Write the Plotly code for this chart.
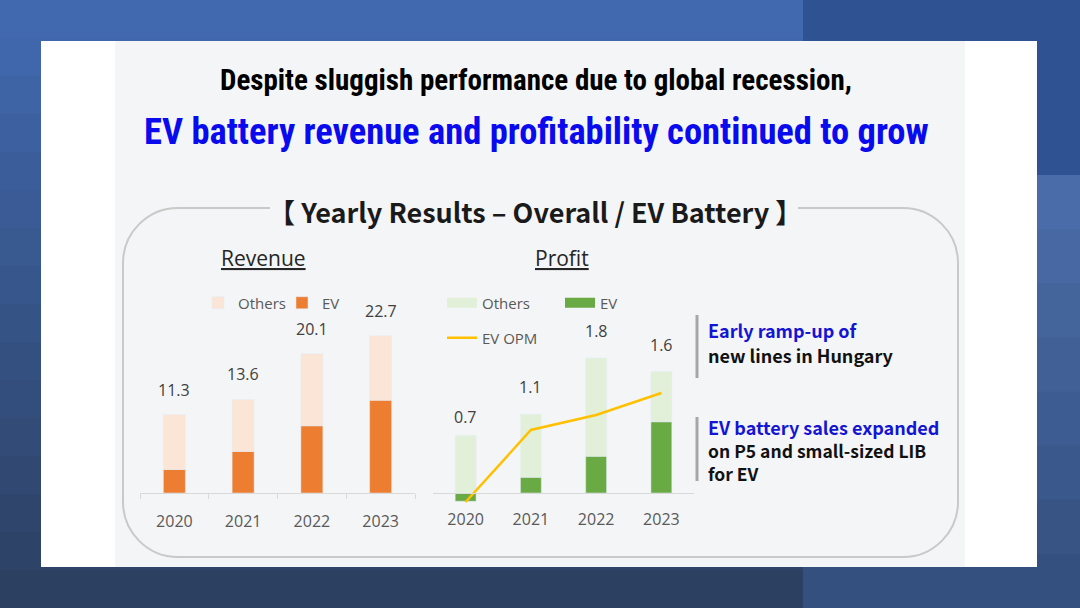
import plotly.graph_objects as go

W, H = 1080, 608

# values
years = ["2020", "2021", "2022", "2023"]
revenue_ev = [3.4, 6.0, 9.7, 13.4]
revenue_others = [7.9, 7.5, 10.4, 9.3]
revenue_labels = ["11.3", "13.6", "20.1", "22.7"]
profit_ev = [-0.11, 0.21, 0.49, 0.95]
profit_others = [0.77, 0.84, 1.31, 0.67]
profit_labels = ["0.7", "1.1", "1.8", "1.6"]
ev_opm = [-0.9, 6.3, 7.8, 10.0]

ORANGE = "#ed7d31"
PEACH = "#fbe5d6"
GREEN = "#6aaa45"
LIGHT_GREEN = "#e2f0d9"
GOLD = "#ffc000"
TXT = "#595959"
FONT = "Open Sans"


def px(x):
    return x / W


def py(y):
    return 1 - y / H


fig = go.Figure()

# revenue (stacked)
fig.add_trace(go.Bar(x=years, y=revenue_ev, name="EV", marker_color=ORANGE,
                     xaxis="x", yaxis="y", legend="legend", legendrank=2))
fig.add_trace(go.Bar(x=years, y=revenue_others, name="Others", marker_color=PEACH,
                     xaxis="x", yaxis="y", legend="legend", legendrank=1))

# profit (stacked, EV can go negative)
fig.add_trace(go.Bar(x=years, y=profit_ev, name="EV", marker_color=GREEN,
                     xaxis="x2", yaxis="y2", showlegend=False))
fig.add_trace(go.Bar(x=years, y=profit_others, name="Others", marker_color=LIGHT_GREEN,
                     xaxis="x2", yaxis="y2", showlegend=False))
fig.add_trace(go.Scatter(x=years, y=ev_opm, name="EV OPM", mode="lines",
                         line=dict(color=GOLD, width=2.5),
                         xaxis="x2", yaxis="y3", legend="legend3"))
# wide swatches for the profit legend, like the original
fig.add_trace(go.Scatter(x=[None], y=[None], name="Others", mode="lines",
                         line=dict(color=LIGHT_GREEN, width=11),
                         xaxis="x2", yaxis="y2", legend="legend2"))
fig.add_trace(go.Scatter(x=[None], y=[None], name="EV", mode="lines",
                         line=dict(color=GREEN, width=11),
                         xaxis="x2", yaxis="y2", legend="legend2"))

# total labels above stacks (category axes take the serial index)
annotations = []
for i, yr in enumerate(years):
    annotations.append(dict(x=i, y=revenue_ev[i] + revenue_others[i], xref="x", yref="y",
                            text=revenue_labels[i], showarrow=False, yanchor="bottom", yshift=12,
                            font=dict(family=FONT, size=16, color="#404040")))
    annotations.append(dict(x=i, y=profit_ev[i] + profit_others[i], xref="x2", yref="y2",
                            text=profit_labels[i], showarrow=False, yanchor="bottom", yshift=14,
                            font=dict(family=FONT, size=16, color="#404040")))


def note(text, x, y, size, color, family=FONT, anchor="center", bold=True):
    t = "<b>%s</b>" % text if bold else text
    annotations.append(dict(x=px(x), y=py(y), xref="paper", yref="paper", text=t,
                            showarrow=False, xanchor=anchor, yanchor="middle", align=anchor,
                            font=dict(family=family, size=size, color=color)))


note("Despite sluggish performance due to global recession,", 536, 80, 29, "#000000",
     family="Liberation Sans Narrow, Roboto Condensed, Roboto")
note("EV battery revenue and profitability continued to grow", 536, 132, 36.5, "#0a0aee",
     family="Liberation Sans Narrow, Roboto Condensed, Roboto")
note("【 Yearly Results – Overall / EV Battery 】", 535, 211, 27, "#1a1a1a",
     family="Noto Sans CJK KR")
note("<u>Revenue</u>", 263, 258, 21, "#262626", bold=False)
note("<u>Profit</u>", 562, 258, 21, "#262626", bold=False)

side = "Noto Sans CJK KR"
note("Early ramp-up of", 706, 330, 18, "#1414d4", family=side, anchor="left")
note("new lines in Hungary", 706, 355, 18, "#111111", family=side, anchor="left")
note("EV battery sales expanded", 706, 427, 18, "#1414d4", family=side, anchor="left")
note("on P5 and small-sized LIB<br>for EV", 706, 462, 17.5, "#111111", family=side,
     anchor="left")


def rect(x0, y0, x1, y1, color):
    return dict(type="rect", xref="paper", yref="paper", x0=px(x0), x1=px(x1),
                y0=py(y1), y1=py(y0), fillcolor=color, line_width=0, layer="below")


def blend(c0, c1, t):
    a = [int(c0[i:i + 2], 16) for i in (1, 3, 5)]
    b = [int(c1[i:i + 2], 16) for i in (1, 3, 5)]
    return "#%02x%02x%02x" % tuple(round(a[k] + (b[k] - a[k]) * t) for k in range(3))


shapes = []
# slide background: blue fading to navy, darker strip on the right
n = 16
for k in range(n):
    shapes.append(rect(0, H * k / n, 803, H * (k + 1) / n + 1, blend("#4169b0", "#2c4062", k / (n - 1))))
shapes.append(rect(803, 0, W, 175, "#2f5392"))
for k in range(8):
    y0 = 175 + (H - 175) * k / 8
    shapes.append(rect(803, y0, W, y0 + (H - 175) / 8 + 1, blend("#4a6ca8", "#34507f", k / 7)))

shapes.append(rect(41, 41, 1037, 567, "#ffffff"))
shapes.append(rect(115, 41, 965, 567, "#f4f5f6"))

# rounded frame with a gap for the heading
L, R, T, B, r = 123, 958, 208, 557, 55
k = 0.45 * r


def P(x, y):
    return "%.5f,%.5f" % (px(x), py(y))


path = ("M" + P(270, T) + " L" + P(L + r, T) +
        " C" + P(L + k, T) + " " + P(L, T + k) + " " + P(L, T + r) +
        " L" + P(L, B - r) +
        " C" + P(L, B - k) + " " + P(L + k, B) + " " + P(L + r, B) +
        " L" + P(R - r, B) +
        " C" + P(R - k, B) + " " + P(R, B - k) + " " + P(R, B - r) +
        " L" + P(R, T + r) +
        " C" + P(R, T + k) + " " + P(R - k, T) + " " + P(R - r, T) +
        " L" + P(798, T))
shapes.append(dict(type="path", xref="paper", yref="paper", path=path,
                   line=dict(color="#c9c9c9", width=2), layer="below"))

# grey bars beside the notes
for y0, y1 in [(315, 378), (417, 481)]:
    shapes.append(dict(type="line", xref="paper", yref="paper", x0=px(697), x1=px(697),
                       y0=py(y0), y1=py(y1), line=dict(color="#a6a6a6", width=3)))

rev_scale = 6.93   # px per unit
pro_scale = 75.0
opm_scale = 10.0

fig.update_layout(
    width=W, height=H,
    margin=dict(l=0, r=0, t=0, b=0, autoexpand=False),
    paper_bgcolor="#3a5c9c",
    plot_bgcolor="rgba(0,0,0,0)",
    barmode="relative",
    bargap=0.68,
    showlegend=True,
    font=dict(family=FONT, color=TXT),
    xaxis=dict(type="category", range=[-0.5, 3.5], domain=[px(140), px(415)], anchor="y",
               showline=True, linecolor="#d9d9d9", linewidth=1, ticks="outside",
               tickson="boundaries", ticklen=5, tickcolor="#d9d9d9",
               tickfont=dict(size=16, color=TXT), ticklabelstandoff=14, showgrid=False,
               automargin=False),
    yaxis=dict(domain=[py(493), py(300)], range=[0, (493 - 300) / rev_scale], visible=False,
               showgrid=False, zeroline=False),
    xaxis2=dict(type="category", range=[-0.5, 3.5], domain=[px(433), px(694)], anchor="free",
                position=py(493), showline=True, linecolor="#d9d9d9", linewidth=1, ticks="",
                tickfont=dict(size=16, color=TXT), ticklabelstandoff=12, showgrid=False,
                automargin=False),
    yaxis2=dict(domain=[py(520), py(300)], anchor="x2",
                range=[-(520 - 493) / pro_scale, (493 - 300) / pro_scale],
                visible=False, showgrid=False, zeroline=False),
    yaxis3=dict(overlaying="y2", anchor="x2",
                range=[-(520 - 493) / opm_scale, (493 - 300) / opm_scale],
                visible=False, showgrid=False, zeroline=False),
    legend=dict(orientation="h", x=px(198), y=py(303), xanchor="left", yanchor="middle",
                bgcolor="rgba(0,0,0,0)", font=dict(size=15, color=TXT),
                entrywidth=39, entrywidthmode="pixels"),
    legend2=dict(orientation="h", x=px(442), y=py(303), xanchor="left", yanchor="middle",
                 bgcolor="rgba(0,0,0,0)", font=dict(size=15, color=TXT),
                 entrywidth=73, entrywidthmode="pixels"),
    legend3=dict(orientation="h", x=px(442), y=py(338), xanchor="left", yanchor="middle",
                 bgcolor="rgba(0,0,0,0)", font=dict(size=15, color=TXT)),
    annotations=annotations,
    shapes=shapes,
)

fig.write_html("out.html", config={"displayModeBar": False},
               post_script="document.body.style.margin='0';")
